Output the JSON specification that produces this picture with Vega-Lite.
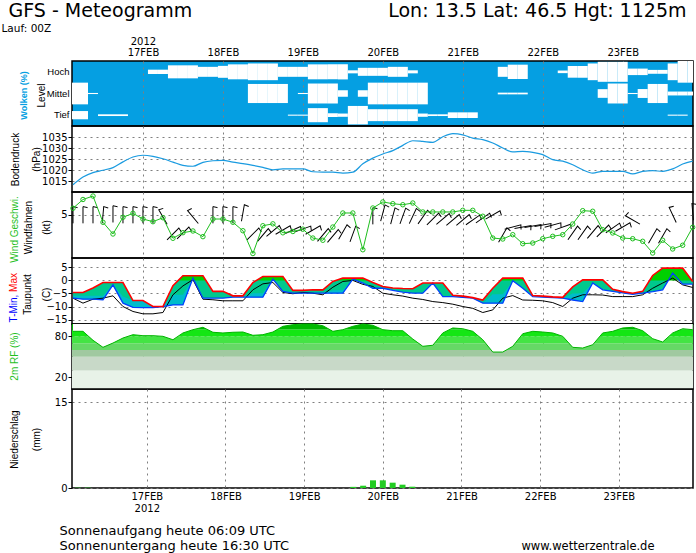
{
  "$schema": "https://vega.github.io/schema/vega-lite/v6.json",
  "background": "white",
  "padding": 0,
  "spacing": 0,
  "bounds": "flush",
  "config": {
    "view": {"stroke": "black", "strokeWidth": 1.5},
    "axis": {
      "labelFont": "DejaVu Sans", "labelFontSize": 10, "labelColor": "black",
      "tickColor": "black", "tickSize": 4, "labelPadding": 1, "domain": false,
      "gridColor": "#7f7f7f", "gridDash": [2, 4], "gridWidth": 1,
      "titleFont": "Liberation Sans", "titleFontSize": 10, "titleFontWeight": "normal", "titleColor": "black",
      "zindex": 1
    },
    "axisY": {"titleAngle": 270, "titleBaseline": "middle", "titleAlign": "center"}
  },
  "datasets": {
    "met": [
      {"t":"2012-02-16T03:00:00Z","p":1013.3,"ws":5.78,"tx":-4.6,"tn":-6.8,"tc":-5.9,"td":-6.8,"rh":87.3},
      {"t":"2012-02-16T06:00:00Z","p":1016.8,"ws":6.80,"tx":-4.6,"tn":-7.2,"tc":-5.9,"td":-8.7,"rh":87.3},
      {"t":"2012-02-16T09:00:00Z","p":1018.8,"ws":7.20,"tx":-2.9,"tn":-7.2,"tc":-5.9,"td":-7.2,"rh":74.2},
      {"t":"2012-02-16T12:00:00Z","p":1019.9,"ws":4.15,"tx":-0.8,"tn":-7.4,"tc":-5.9,"td":-6.8,"rh":63.9},
      {"t":"2012-02-16T15:00:00Z","p":1021.1,"ws":2.79,"tx":-0.8,"tn":-1.7,"tc":-1.7,"td":-5.9,"rh":70.2},
      {"t":"2012-02-16T18:00:00Z","p":1023.7,"ws":4.73,"tx":-0.8,"tn":-8.7,"tc":-6.2,"td":-10.0,"rh":77.5},
      {"t":"2012-02-16T21:00:00Z","p":1025.9,"ws":5.19,"tx":-7.7,"tn":-10.3,"tc":-7.7,"td":-11.9,"rh":82.4},
      {"t":"2012-02-17T00:00:00Z","p":1026.7,"ws":4.53,"tx":-7.7,"tn":-10.4,"tc":-7.7,"td":-12.8,"rh":80.9},
      {"t":"2012-02-17T03:00:00Z","p":1026.2,"ws":4.22,"tx":-10.0,"tn":-10.4,"tc":-10.0,"td":-12.8,"rh":80.9},
      {"t":"2012-02-17T06:00:00Z","p":1025.1,"ws":4.68,"tx":-10.0,"tn":-10.0,"tc":-10.0,"td":-12.3,"rh":80.0},
      {"t":"2012-02-17T09:00:00Z","p":1023.6,"ws":2.29,"tx":-2.0,"tn":-9.4,"tc":-5.5,"td":-5.5,"rh":75.0},
      {"t":"2012-02-17T12:00:00Z","p":1022.1,"ws":2.94,"tx":1.8,"tn":-9.4,"tc":-5.5,"td":-2.1,"rh":84.9},
      {"t":"2012-02-17T15:00:00Z","p":1021.7,"ws":3.14,"tx":1.8,"tn":0.9,"tc":0.9,"td":0.3,"rh":89.7},
      {"t":"2012-02-17T18:00:00Z","p":1023.5,"ws":2.48,"tx":1.8,"tn":-6.8,"tc":-6.8,"td":-7.2,"rh":93.2},
      {"t":"2012-02-17T21:00:00Z","p":1024.2,"ws":4.53,"tx":-4.2,"tn":-6.8,"tc":-6.8,"td":-7.4,"rh":85.9},
      {"t":"2012-02-18T00:00:00Z","p":1024.4,"ws":4.53,"tx":-4.2,"tn":-6.8,"tc":-6.8,"td":-7.8,"rh":84.9},
      {"t":"2012-02-18T03:00:00Z","p":1023.6,"ws":4.15,"tx":-5.9,"tn":-6.4,"tc":-6.4,"td":-7.8,"rh":85.9},
      {"t":"2012-02-18T06:00:00Z","p":1022.9,"ws":3.17,"tx":-5.9,"tn":-6.4,"tc":-6.4,"td":-7.8,"rh":86.3},
      {"t":"2012-02-18T09:00:00Z","p":1022.1,"ws":0.52,"tx":-0.8,"tn":-6.4,"tc":-4.9,"td":-3.6,"rh":81.5},
      {"t":"2012-02-18T12:00:00Z","p":1021.2,"ws":3.75,"tx":1.5,"tn":-6.4,"tc":-4.9,"td":-1.3,"rh":82.4},
      {"t":"2012-02-18T15:00:00Z","p":1020.1,"ws":3.97,"tx":1.5,"tn":0.5,"tc":0.5,"td":-0.8,"rh":86.3},
      {"t":"2012-02-18T18:00:00Z","p":1020.5,"ws":2.93,"tx":1.5,"tn":-4.2,"tc":-4.2,"td":-4.6,"rh":94.6},
      {"t":"2012-02-18T21:00:00Z","p":1020.5,"ws":3.08,"tx":-3.8,"tn":-4.9,"tc":-4.9,"td":-5.1,"rh":97.0},
      {"t":"2012-02-19T00:00:00Z","p":1020.5,"ws":3.35,"tx":-3.8,"tn":-4.9,"tc":-4.9,"td":-4.6,"rh":98.0},
      {"t":"2012-02-19T03:00:00Z","p":1019.2,"ws":2.32,"tx":-3.6,"tn":-4.9,"tc":-4.9,"td":-4.9,"rh":98.0},
      {"t":"2012-02-19T06:00:00Z","p":1019.0,"ws":2.06,"tx":-3.6,"tn":-4.9,"tc":-4.9,"td":-5.5,"rh":95.5},
      {"t":"2012-02-19T09:00:00Z","p":1019.0,"ws":3.60,"tx":-0.4,"tn":-4.9,"tc":-3.8,"td":-2.6,"rh":87.3},
      {"t":"2012-02-19T12:00:00Z","p":1018.6,"ws":5.23,"tx":0.9,"tn":-4.9,"tc":-3.8,"td":-0.4,"rh":89.7},
      {"t":"2012-02-19T15:00:00Z","p":1019.0,"ws":5.23,"tx":0.9,"tn":0.5,"tc":0.5,"td":0.0,"rh":94.6},
      {"t":"2012-02-19T18:00:00Z","p":1022.8,"ws":0.96,"tx":0.9,"tn":-1.0,"tc":-1.0,"td":-1.5,"rh":98.0},
      {"t":"2012-02-19T21:00:00Z","p":1025.4,"ws":5.81,"tx":-0.8,"tn":-3.0,"tc":-3.0,"td":-2.3,"rh":96.1},
      {"t":"2012-02-20T00:00:00Z","p":1027.3,"ws":6.51,"tx":-2.3,"tn":-3.0,"tc":-3.0,"td":-4.9,"rh":89.7},
      {"t":"2012-02-20T03:00:00Z","p":1028.8,"ws":6.31,"tx":-2.9,"tn":-3.8,"tc":-3.8,"td":-5.5,"rh":88.2},
      {"t":"2012-02-20T06:00:00Z","p":1031.2,"ws":6.19,"tx":-3.1,"tn":-4.5,"tc":-4.5,"td":-6.0,"rh":88.2},
      {"t":"2012-02-20T09:00:00Z","p":1033.3,"ws":6.39,"tx":-3.2,"tn":-4.9,"tc":-4.9,"td":-6.8,"rh":76.0},
      {"t":"2012-02-20T12:00:00Z","p":1033.0,"ws":5.35,"tx":-1.0,"tn":-4.9,"tc":-4.9,"td":-7.3,"rh":65.4},
      {"t":"2012-02-20T15:00:00Z","p":1032.6,"ws":5.35,"tx":-1.0,"tn":-1.0,"tc":-1.0,"td":-8.1,"rh":66.9},
      {"t":"2012-02-20T18:00:00Z","p":1035.1,"ws":5.35,"tx":-1.0,"tn":-6.2,"tc":-6.2,"td":-8.5,"rh":84.9},
      {"t":"2012-02-20T21:00:00Z","p":1036.5,"ws":5.35,"tx":-5.7,"tn":-6.2,"tc":-6.2,"td":-9.1,"rh":92.2},
      {"t":"2012-02-21T00:00:00Z","p":1036.0,"ws":5.54,"tx":-6.0,"tn":-6.5,"tc":-6.5,"td":-10.0,"rh":91.1},
      {"t":"2012-02-21T03:00:00Z","p":1034.5,"ws":5.54,"tx":-6.6,"tn":-6.8,"tc":-6.8,"td":-10.7,"rh":87.3},
      {"t":"2012-02-21T06:00:00Z","p":1033.8,"ws":4.85,"tx":-7.5,"tn":-8.7,"tc":-8.7,"td":-12.3,"rh":75.0},
      {"t":"2012-02-21T09:00:00Z","p":1032.3,"ws":2.32,"tx":-3.0,"tn":-8.7,"tc":-5.3,"td":-11.3,"rh":57.0},
      {"t":"2012-02-21T12:00:00Z","p":1030.0,"ws":2.21,"tx":0.9,"tn":-8.7,"tc":-5.3,"td":-6.8,"rh":57.0},
      {"t":"2012-02-21T15:00:00Z","p":1028.2,"ws":2.71,"tx":0.9,"tn":-0.1,"tc":-0.1,"td":-5.8,"rh":65.4},
      {"t":"2012-02-21T18:00:00Z","p":1028.5,"ws":1.66,"tx":0.9,"tn":-3.0,"tc":-3.0,"td":-7.5,"rh":83.8},
      {"t":"2012-02-21T21:00:00Z","p":1028.0,"ws":1.74,"tx":-5.8,"tn":-6.2,"tc":-6.2,"td":-7.6,"rh":87.3},
      {"t":"2012-02-22T00:00:00Z","p":1027.0,"ws":2.24,"tx":-6.0,"tn":-6.4,"tc":-6.4,"td":-7.8,"rh":86.3},
      {"t":"2012-02-22T03:00:00Z","p":1024.7,"ws":2.52,"tx":-6.3,"tn":-6.6,"tc":-6.6,"td":-8.5,"rh":84.9},
      {"t":"2012-02-22T06:00:00Z","p":1024.0,"ws":2.71,"tx":-6.5,"tn":-6.8,"tc":-6.8,"td":-10.0,"rh":80.0},
      {"t":"2012-02-22T09:00:00Z","p":1022.4,"ws":3.95,"tx":-2.5,"tn":-7.5,"tc":-5.0,"td":-6.8,"rh":63.9},
      {"t":"2012-02-22T12:00:00Z","p":1020.1,"ws":5.50,"tx":0.2,"tn":-8.1,"tc":-4.9,"td":-5.5,"rh":62.9},
      {"t":"2012-02-22T15:00:00Z","p":1018.6,"ws":5.43,"tx":0.2,"tn":-1.0,"tc":-1.0,"td":-5.5,"rh":67.7},
      {"t":"2012-02-22T18:00:00Z","p":1019.4,"ws":3.29,"tx":0.2,"tn":-3.6,"tc":-3.6,"td":-5.6,"rh":84.9},
      {"t":"2012-02-22T21:00:00Z","p":1019.4,"ws":2.91,"tx":-3.4,"tn":-4.2,"tc":-4.2,"td":-6.2,"rh":87.3},
      {"t":"2012-02-23T00:00:00Z","p":1019.4,"ws":2.32,"tx":-4.3,"tn":-4.8,"tc":-4.8,"td":-6.2,"rh":92.2},
      {"t":"2012-02-23T03:00:00Z","p":1018.2,"ws":2.24,"tx":-4.9,"tn":-5.3,"tc":-5.3,"td":-6.2,"rh":93.2},
      {"t":"2012-02-23T06:00:00Z","p":1019.4,"ws":1.94,"tx":-4.2,"tn":-4.9,"tc":-4.9,"td":-5.5,"rh":88.2},
      {"t":"2012-02-23T09:00:00Z","p":1019.7,"ws":0.58,"tx":1.9,"tn":-4.3,"tc":-4.3,"td":-3.0,"rh":76.5},
      {"t":"2012-02-23T12:00:00Z","p":1019.4,"ws":2.06,"tx":4.7,"tn":-3.6,"tc":-3.6,"td":-1.0,"rh":71.7},
      {"t":"2012-02-23T15:00:00Z","p":1020.5,"ws":1.05,"tx":4.7,"tn":2.8,"tc":2.8,"td":0.9,"rh":84.9},
      {"t":"2012-02-23T18:00:00Z","p":1022.7,"ws":1.48,"tx":4.7,"tn":-1.4,"tc":-1.4,"td":-1.7,"rh":91.1},
      {"t":"2012-02-23T21:00:00Z","p":1024.0,"ws":3.57,"tx":-0.4,"tn":-1.4,"tc":-1.4,"td":-2.7,"rh":89.7}
    ],
    "clouds": [
      {"t0":"2012-02-16T01:30:00Z","t1":"2012-02-16T04:30:00Z","Hoch":0,"Mittel":100,"Tief":38},
      {"t0":"2012-02-16T04:30:00Z","t1":"2012-02-16T07:30:00Z","Hoch":0,"Mittel":100,"Tief":38},
      {"t0":"2012-02-16T07:30:00Z","t1":"2012-02-16T10:30:00Z","Hoch":0,"Mittel":5,"Tief":0},
      {"t0":"2012-02-16T10:30:00Z","t1":"2012-02-16T13:30:00Z","Hoch":0,"Mittel":0,"Tief":8},
      {"t0":"2012-02-16T13:30:00Z","t1":"2012-02-16T16:30:00Z","Hoch":0,"Mittel":0,"Tief":8},
      {"t0":"2012-02-16T16:30:00Z","t1":"2012-02-16T19:30:00Z","Hoch":0,"Mittel":0,"Tief":8},
      {"t0":"2012-02-17T01:30:00Z","t1":"2012-02-17T04:30:00Z","Hoch":20,"Mittel":0,"Tief":0},
      {"t0":"2012-02-17T04:30:00Z","t1":"2012-02-17T07:30:00Z","Hoch":20,"Mittel":0,"Tief":0},
      {"t0":"2012-02-17T07:30:00Z","t1":"2012-02-17T10:30:00Z","Hoch":60,"Mittel":0,"Tief":0},
      {"t0":"2012-02-17T10:30:00Z","t1":"2012-02-17T13:30:00Z","Hoch":60,"Mittel":0,"Tief":0},
      {"t0":"2012-02-17T13:30:00Z","t1":"2012-02-17T16:30:00Z","Hoch":60,"Mittel":0,"Tief":0},
      {"t0":"2012-02-17T16:30:00Z","t1":"2012-02-17T19:30:00Z","Hoch":46,"Mittel":0,"Tief":0},
      {"t0":"2012-02-17T19:30:00Z","t1":"2012-02-17T22:30:00Z","Hoch":46,"Mittel":0,"Tief":0},
      {"t0":"2012-02-17T22:30:00Z","t1":"2012-02-18T01:30:00Z","Hoch":55,"Mittel":0,"Tief":0},
      {"t0":"2012-02-18T01:30:00Z","t1":"2012-02-18T04:30:00Z","Hoch":69,"Mittel":0,"Tief":0},
      {"t0":"2012-02-18T04:30:00Z","t1":"2012-02-18T07:30:00Z","Hoch":69,"Mittel":0,"Tief":0},
      {"t0":"2012-02-18T07:30:00Z","t1":"2012-02-18T10:30:00Z","Hoch":77,"Mittel":88,"Tief":0},
      {"t0":"2012-02-18T10:30:00Z","t1":"2012-02-18T13:30:00Z","Hoch":77,"Mittel":88,"Tief":0},
      {"t0":"2012-02-18T13:30:00Z","t1":"2012-02-18T16:30:00Z","Hoch":77,"Mittel":88,"Tief":0},
      {"t0":"2012-02-18T16:30:00Z","t1":"2012-02-18T19:30:00Z","Hoch":46,"Mittel":88,"Tief":0},
      {"t0":"2012-02-18T19:30:00Z","t1":"2012-02-18T22:30:00Z","Hoch":46,"Mittel":0,"Tief":5},
      {"t0":"2012-02-18T22:30:00Z","t1":"2012-02-19T01:30:00Z","Hoch":46,"Mittel":5,"Tief":5},
      {"t0":"2012-02-19T01:30:00Z","t1":"2012-02-19T04:30:00Z","Hoch":69,"Mittel":92,"Tief":65},
      {"t0":"2012-02-19T04:30:00Z","t1":"2012-02-19T07:30:00Z","Hoch":69,"Mittel":92,"Tief":65},
      {"t0":"2012-02-19T07:30:00Z","t1":"2012-02-19T10:30:00Z","Hoch":69,"Mittel":92,"Tief":18},
      {"t0":"2012-02-19T10:30:00Z","t1":"2012-02-19T13:30:00Z","Hoch":70,"Mittel":30,"Tief":15},
      {"t0":"2012-02-19T13:30:00Z","t1":"2012-02-19T16:30:00Z","Hoch":14,"Mittel":0,"Tief":85},
      {"t0":"2012-02-19T16:30:00Z","t1":"2012-02-19T19:30:00Z","Hoch":37,"Mittel":30,"Tief":85},
      {"t0":"2012-02-19T19:30:00Z","t1":"2012-02-19T22:30:00Z","Hoch":37,"Mittel":100,"Tief":55},
      {"t0":"2012-02-19T22:30:00Z","t1":"2012-02-20T01:30:00Z","Hoch":37,"Mittel":100,"Tief":55},
      {"t0":"2012-02-20T01:30:00Z","t1":"2012-02-20T04:30:00Z","Hoch":46,"Mittel":100,"Tief":55},
      {"t0":"2012-02-20T04:30:00Z","t1":"2012-02-20T07:30:00Z","Hoch":46,"Mittel":100,"Tief":55},
      {"t0":"2012-02-20T07:30:00Z","t1":"2012-02-20T10:30:00Z","Hoch":14,"Mittel":100,"Tief":55},
      {"t0":"2012-02-20T10:30:00Z","t1":"2012-02-20T13:30:00Z","Hoch":0,"Mittel":100,"Tief":15},
      {"t0":"2012-02-20T13:30:00Z","t1":"2012-02-20T16:30:00Z","Hoch":0,"Mittel":0,"Tief":8},
      {"t0":"2012-02-20T16:30:00Z","t1":"2012-02-20T19:30:00Z","Hoch":0,"Mittel":0,"Tief":8},
      {"t0":"2012-02-20T19:30:00Z","t1":"2012-02-20T22:30:00Z","Hoch":0,"Mittel":0,"Tief":26},
      {"t0":"2012-02-20T22:30:00Z","t1":"2012-02-21T01:30:00Z","Hoch":0,"Mittel":0,"Tief":26},
      {"t0":"2012-02-21T01:30:00Z","t1":"2012-02-21T04:30:00Z","Hoch":0,"Mittel":0,"Tief":26},
      {"t0":"2012-02-21T10:30:00Z","t1":"2012-02-21T13:30:00Z","Hoch":46,"Mittel":8,"Tief":0},
      {"t0":"2012-02-21T13:30:00Z","t1":"2012-02-21T16:30:00Z","Hoch":66,"Mittel":8,"Tief":0},
      {"t0":"2012-02-21T16:30:00Z","t1":"2012-02-21T19:30:00Z","Hoch":66,"Mittel":8,"Tief":0},
      {"t0":"2012-02-22T04:30:00Z","t1":"2012-02-22T07:30:00Z","Hoch":12,"Mittel":0,"Tief":0},
      {"t0":"2012-02-22T07:30:00Z","t1":"2012-02-22T10:30:00Z","Hoch":54,"Mittel":0,"Tief":0},
      {"t0":"2012-02-22T10:30:00Z","t1":"2012-02-22T13:30:00Z","Hoch":54,"Mittel":0,"Tief":0},
      {"t0":"2012-02-22T13:30:00Z","t1":"2012-02-22T16:30:00Z","Hoch":77,"Mittel":0,"Tief":0},
      {"t0":"2012-02-22T16:30:00Z","t1":"2012-02-22T19:30:00Z","Hoch":92,"Mittel":40,"Tief":0},
      {"t0":"2012-02-22T19:30:00Z","t1":"2012-02-22T22:30:00Z","Hoch":92,"Mittel":92,"Tief":0},
      {"t0":"2012-02-22T22:30:00Z","t1":"2012-02-23T01:30:00Z","Hoch":92,"Mittel":92,"Tief":0},
      {"t0":"2012-02-23T01:30:00Z","t1":"2012-02-23T04:30:00Z","Hoch":30,"Mittel":5,"Tief":0},
      {"t0":"2012-02-23T04:30:00Z","t1":"2012-02-23T07:30:00Z","Hoch":30,"Mittel":41,"Tief":0},
      {"t0":"2012-02-23T07:30:00Z","t1":"2012-02-23T10:30:00Z","Hoch":18,"Mittel":88,"Tief":0},
      {"t0":"2012-02-23T10:30:00Z","t1":"2012-02-23T13:30:00Z","Hoch":18,"Mittel":88,"Tief":0},
      {"t0":"2012-02-23T13:30:00Z","t1":"2012-02-23T16:30:00Z","Hoch":77,"Mittel":18,"Tief":5},
      {"t0":"2012-02-23T16:30:00Z","t1":"2012-02-23T19:30:00Z","Hoch":100,"Mittel":18,"Tief":5},
      {"t0":"2012-02-23T19:30:00Z","t1":"2012-02-23T22:30:00Z","Hoch":100,"Mittel":18,"Tief":0}
    ],
    "barbs": [
      {"t":"2012-02-16T03:00:00Z","v":5.0,"dir":0},
      {"t":"2012-02-16T06:00:00Z","v":5.0,"dir":0},
      {"t":"2012-02-16T09:00:00Z","v":5.0,"dir":0},
      {"t":"2012-02-16T12:00:00Z","v":5.0,"dir":5},
      {"t":"2012-02-16T15:00:00Z","v":5.1,"dir":0},
      {"t":"2012-02-16T18:00:00Z","v":5.0,"dir":0},
      {"t":"2012-02-16T21:00:00Z","v":5.0,"dir":0},
      {"t":"2012-02-17T00:00:00Z","v":5.0,"dir":0},
      {"t":"2012-02-17T03:00:00Z","v":5.0,"dir":0},
      {"t":"2012-02-17T06:00:00Z","v":4.76,"dir":-30},
      {"t":"2012-02-17T09:00:00Z","v":2.79,"dir":45},
      {"t":"2012-02-17T12:00:00Z","v":2.91,"dir":45},
      {"t":"2012-02-17T15:00:00Z","v":4.76,"dir":-40},
      {"t":"2012-02-17T21:00:00Z","v":5.0,"dir":0},
      {"t":"2012-02-18T00:00:00Z","v":5.0,"dir":0},
      {"t":"2012-02-18T03:00:00Z","v":5.0,"dir":0},
      {"t":"2012-02-18T06:00:00Z","v":5.23,"dir":10},
      {"t":"2012-02-18T09:00:00Z","v":2.79,"dir":45},
      {"t":"2012-02-18T12:00:00Z","v":2.67,"dir":40},
      {"t":"2012-02-18T15:00:00Z","v":3.14,"dir":50},
      {"t":"2012-02-18T18:00:00Z","v":3.25,"dir":60},
      {"t":"2012-02-18T21:00:00Z","v":3.25,"dir":65},
      {"t":"2012-02-19T00:00:00Z","v":3.37,"dir":70},
      {"t":"2012-02-19T03:00:00Z","v":3.25,"dir":60},
      {"t":"2012-02-19T06:00:00Z","v":2.67,"dir":40},
      {"t":"2012-02-19T09:00:00Z","v":2.56,"dir":40},
      {"t":"2012-02-19T12:00:00Z","v":3.02,"dir":30},
      {"t":"2012-02-19T15:00:00Z","v":2.79,"dir":20},
      {"t":"2012-02-19T21:00:00Z","v":4.88,"dir":0},
      {"t":"2012-02-20T00:00:00Z","v":5.23,"dir":15},
      {"t":"2012-02-20T03:00:00Z","v":4.88,"dir":15},
      {"t":"2012-02-20T06:00:00Z","v":4.88,"dir":20},
      {"t":"2012-02-20T09:00:00Z","v":4.88,"dir":25},
      {"t":"2012-02-20T12:00:00Z","v":4.76,"dir":35},
      {"t":"2012-02-20T15:00:00Z","v":4.53,"dir":45},
      {"t":"2012-02-20T18:00:00Z","v":4.53,"dir":50},
      {"t":"2012-02-20T21:00:00Z","v":4.42,"dir":50},
      {"t":"2012-02-21T00:00:00Z","v":4.42,"dir":50},
      {"t":"2012-02-21T03:00:00Z","v":4.42,"dir":55},
      {"t":"2012-02-21T06:00:00Z","v":4.65,"dir":55},
      {"t":"2012-02-21T09:00:00Z","v":5.0,"dir":60},
      {"t":"2012-02-21T12:00:00Z","v":2.67,"dir":30},
      {"t":"2012-02-21T15:00:00Z","v":3.6,"dir":75},
      {"t":"2012-02-21T18:00:00Z","v":3.6,"dir":80},
      {"t":"2012-02-21T21:00:00Z","v":3.72,"dir":80},
      {"t":"2012-02-22T00:00:00Z","v":3.83,"dir":80},
      {"t":"2012-02-22T03:00:00Z","v":3.83,"dir":75},
      {"t":"2012-02-22T06:00:00Z","v":3.6,"dir":70},
      {"t":"2012-02-22T09:00:00Z","v":2.91,"dir":35},
      {"t":"2012-02-22T12:00:00Z","v":2.91,"dir":35},
      {"t":"2012-02-22T15:00:00Z","v":3.02,"dir":40},
      {"t":"2012-02-22T18:00:00Z","v":3.14,"dir":45},
      {"t":"2012-02-22T21:00:00Z","v":3.49,"dir":55},
      {"t":"2012-02-23T00:00:00Z","v":3.6,"dir":60},
      {"t":"2012-02-23T03:00:00Z","v":4.42,"dir":-60},
      {"t":"2012-02-23T09:00:00Z","v":2.56,"dir":30},
      {"t":"2012-02-23T12:00:00Z","v":2.56,"dir":30},
      {"t":"2012-02-23T15:00:00Z","v":5.0,"dir":-25},
      {"t":"2012-02-23T21:00:00Z","v":5.35,"dir":-5}
    ],
    "warm": [
      {"t":"2012-02-17T10:30:00Z","hi":0,"seg":"A"},
      {"t":"2012-02-17T12:00:00Z","hi":1.8,"seg":"A"},
      {"t":"2012-02-17T15:00:00Z","hi":1.8,"seg":"A"},
      {"t":"2012-02-17T18:00:00Z","hi":1.8,"seg":"A"},
      {"t":"2012-02-17T18:54:00Z","hi":0,"seg":"A"},
      {"t":"2012-02-18T10:00:00Z","hi":0,"seg":"B"},
      {"t":"2012-02-18T12:00:00Z","hi":1.5,"seg":"B"},
      {"t":"2012-02-18T15:00:00Z","hi":1.5,"seg":"B"},
      {"t":"2012-02-18T18:00:00Z","hi":1.5,"seg":"B"},
      {"t":"2012-02-18T18:51:00Z","hi":0,"seg":"B"},
      {"t":"2012-02-19T09:56:00Z","hi":0,"seg":"C"},
      {"t":"2012-02-19T12:00:00Z","hi":0.9,"seg":"C"},
      {"t":"2012-02-19T15:00:00Z","hi":0.9,"seg":"C"},
      {"t":"2012-02-19T18:00:00Z","hi":0.9,"seg":"C"},
      {"t":"2012-02-19T19:35:00Z","hi":0,"seg":"C"},
      {"t":"2012-02-21T11:18:00Z","hi":0,"seg":"D"},
      {"t":"2012-02-21T12:00:00Z","hi":0.9,"seg":"D"},
      {"t":"2012-02-21T15:00:00Z","hi":0.9,"seg":"D"},
      {"t":"2012-02-21T18:00:00Z","hi":0.9,"seg":"D"},
      {"t":"2012-02-21T18:24:00Z","hi":0,"seg":"D"},
      {"t":"2012-02-22T11:47:00Z","hi":0,"seg":"E"},
      {"t":"2012-02-22T12:00:00Z","hi":0.2,"seg":"E"},
      {"t":"2012-02-22T15:00:00Z","hi":0.2,"seg":"E"},
      {"t":"2012-02-22T18:00:00Z","hi":0.2,"seg":"E"},
      {"t":"2012-02-22T18:10:00Z","hi":0,"seg":"E"},
      {"t":"2012-02-23T08:04:00Z","hi":0,"seg":"F"},
      {"t":"2012-02-23T09:00:00Z","hi":1.9,"seg":"F"},
      {"t":"2012-02-23T12:00:00Z","hi":4.7,"seg":"F"},
      {"t":"2012-02-23T15:00:00Z","hi":4.7,"seg":"F"},
      {"t":"2012-02-23T18:00:00Z","hi":4.7,"seg":"F"},
      {"t":"2012-02-23T20:46:00Z","hi":0,"seg":"F"}
    ],
    "precip": [
      {"t":"2012-02-16T03:00:00Z","mm":0.06},
      {"t":"2012-02-16T06:00:00Z","mm":0.06},
      {"t":"2012-02-19T15:00:00Z","mm":0.2},
      {"t":"2012-02-19T18:00:00Z","mm":0.4},
      {"t":"2012-02-19T21:00:00Z","mm":1.34},
      {"t":"2012-02-20T00:00:00Z","mm":1.34},
      {"t":"2012-02-20T03:00:00Z","mm":0.93},
      {"t":"2012-02-20T06:00:00Z","mm":0.58},
      {"t":"2012-02-20T09:00:00Z","mm":0.23}
    ],
    "bands": [
      {"lo":0,"hi":30},{"lo":30,"hi":50},{"lo":50,"hi":60},{"lo":60,"hi":70},
      {"lo":70,"hi":80},{"lo":80,"hi":90},{"lo":90,"hi":98}
    ]
  },
  "vconcat": [
    {
      "width": 621, "height": 65,
      "view": {"fill": "#059fe2", "stroke": "black", "strokeWidth": 1.5},
      "data": {"name": "clouds"},
      "transform": [{"fold": ["Hoch", "Mittel", "Tief"], "as": ["lvl", "c"]}],
      "encoding": {
        "x2": {"field": "t1"},
        "size": {"field": "c", "type": "quantitative", "scale": {"domain": [0, 100], "range": [0, 21.7]}, "legend": null}
      },
      "layer": [
        {
          "transform": [{"filter": "datum.lvl == 'Hoch'"}],
          "mark": {"type": "bar", "color": "white", "clip": true},
          "encoding": {
            "x": {"field": "t0", "type": "temporal",
              "scale": {"type": "utc", "domain": [{"year": 2012, "month": 2, "date": 16, "hours": 2, "minutes": 42, "utc": true}, {"year": 2012, "month": 2, "date": 23, "hours": 21, "minutes": 6, "utc": true}]},
              "axis": {"orient": "top", "values": [{"year":2012,"month":2,"date":17,"utc":true},{"year":2012,"month":2,"date":18,"utc":true},{"year":2012,"month":2,"date":19,"utc":true},{"year":2012,"month":2,"date":20,"utc":true},{"year":2012,"month":2,"date":21,"utc":true},{"year":2012,"month":2,"date":22,"utc":true},{"year":2012,"month":2,"date":23,"utc":true}],
                "labelExpr": "[utcdate(datum.value) == 17 ? '2012' : '', upper(utcFormat(datum.value, '%d%b'))]",
                "labelPadding": 15, "labelLineHeight": 11, "ticks": false, "grid": true,
                "title": "Lon: 13.5 Lat: 46.5 Hgt: 1125m", "titleFont": "DejaVu Sans", "titleFontSize": 19, "titleAngle": 0, "titleAlign": "right", "titleBaseline": "alphabetic", "titleX": 614, "titleY": -45}},
            "y": {"field": "lvl", "type": "nominal", "scale": {"domain": ["Hoch", "Mittel", "Tief"], "paddingInner": 0, "paddingOuter": 0},
              "axis": {"orient": "left", "ticks": false, "grid": false, "labelFont": "Liberation Sans", "labelFontSize": 9.5, "labelPadding": 3, "title": "Level", "titleX": -31, "titleY": 34}}
          }
        },
        {
          "transform": [{"filter": "datum.lvl == 'Mittel'"}],
          "mark": {"type": "bar", "color": "white", "clip": true},
          "encoding": {
            "x": {"field": "t0", "type": "temporal",
              "axis": {"orient": "top", "labels": false, "ticks": false, "grid": false,
                "title": "GFS - Meteogramm", "titleFont": "DejaVu Sans", "titleFontSize": 19, "titleAngle": 0, "titleAlign": "left", "titleBaseline": "alphabetic", "titleX": -64, "titleY": -45}},
            "y": {"field": "lvl", "type": "nominal", "scale": {"domain": ["Hoch", "Mittel", "Tief"], "paddingInner": 0, "paddingOuter": 0},
              "axis": {"orient": "left", "labels": false, "ticks": false, "grid": false, "title": "Wolken (%)", "titleColor": "#059fe2", "titleFontWeight": "bold", "titleFontSize": 9, "titleX": -48.5, "titleY": 34}}
          }
        },
        {
          "transform": [{"filter": "datum.lvl == 'Tief'"}],
          "mark": {"type": "bar", "color": "white", "clip": true},
          "encoding": {
            "x": {"field": "t0", "type": "temporal",
              "axis": {"orient": "top", "labels": false, "ticks": false, "grid": false,
                "title": "Lauf: 00Z", "titleFont": "DejaVu Sans", "titleFontSize": 10.5, "titleAngle": 0, "titleAlign": "left", "titleBaseline": "alphabetic", "titleX": -71, "titleY": -30}},
            "y": {"field": "lvl", "type": "nominal", "scale": {"domain": ["Hoch", "Mittel", "Tief"], "paddingInner": 0, "paddingOuter": 0}, "axis": null}
          }
        }
      ],
      "resolve": {"axis": {"x": "independent", "y": "independent"}}
    },
    {
      "width": 621, "height": 66,
      "data": {"name": "met"},
      "mark": {"type": "line", "color": "#1a9be0", "strokeWidth": 1.2, "interpolate": "monotone"},
      "encoding": {
        "x": {"field": "t", "type": "temporal",
          "scale": {"type": "utc", "domain": [{"year": 2012, "month": 2, "date": 16, "hours": 2, "minutes": 42, "utc": true}, {"year": 2012, "month": 2, "date": 23, "hours": 21, "minutes": 6, "utc": true}]},
          "axis": {"values": [{"year":2012,"month":2,"date":17,"utc":true},{"year":2012,"month":2,"date":18,"utc":true},{"year":2012,"month":2,"date":19,"utc":true},{"year":2012,"month":2,"date":20,"utc":true},{"year":2012,"month":2,"date":21,"utc":true},{"year":2012,"month":2,"date":22,"utc":true},{"year":2012,"month":2,"date":23,"utc":true}], "labels": false, "ticks": false, "title": null, "grid": true}},
        "y": {"field": "p", "type": "quantitative", "scale": {"domain": [1010, 1040], "zero": false, "nice": false},
          "axis": {"values": [1015, 1020, 1025, 1030, 1035], "format": "d", "grid": true, "title": ["Bodendruck", "(hPa)"], "titleX": -57, "titleY": 33, "titleLineHeight": 21}}
      }
    },
    {
      "width": 621, "height": 66,
      "layer": [
        {
          "data": {"name": "barbs"},
          "mark": {"type": "point", "shape": "M0,1L0,-1L0.55,-0.88", "filled": false, "stroke": "black", "strokeWidth": 1, "size": 280, "opacity": 1},
          "encoding": {
            "x": {"field": "t", "type": "temporal",
              "scale": {"type": "utc", "domain": [{"year": 2012, "month": 2, "date": 16, "hours": 2, "minutes": 42, "utc": true}, {"year": 2012, "month": 2, "date": 23, "hours": 21, "minutes": 6, "utc": true}]},
              "axis": {"values": [{"year":2012,"month":2,"date":17,"utc":true},{"year":2012,"month":2,"date":18,"utc":true},{"year":2012,"month":2,"date":19,"utc":true},{"year":2012,"month":2,"date":20,"utc":true},{"year":2012,"month":2,"date":21,"utc":true},{"year":2012,"month":2,"date":22,"utc":true},{"year":2012,"month":2,"date":23,"utc":true}], "labels": false, "ticks": false, "title": null, "grid": true}},
            "y": {"field": "v", "type": "quantitative", "scale": {"domain": [0, 7.67], "nice": false, "zero": false},
              "axis": {"orient": "left", "labels": false, "ticks": false, "grid": false, "title": "Wind Geschwi.", "titleColor": "#1fbf1f", "titleX": -58, "titleY": 37}},
            "angle": {"field": "dir", "type": "quantitative", "scale": null}
          }
        },
        {
          "data": {"name": "met"},
          "mark": {"type": "line", "color": "#1fbf1f", "strokeWidth": 1, "point": {"filled": false, "stroke": "#1fbf1f", "size": 20, "strokeWidth": 1, "opacity": 1}},
          "encoding": {
            "x": {"field": "t", "type": "temporal"},
            "y": {"field": "ws", "type": "quantitative", "scale": {"domain": [0, 7.67], "nice": false, "zero": false},
              "axis": {"orient": "left", "values": [5], "grid": true, "title": ["Windfahnen", "(kt)"], "titleX": -44, "titleY": 35, "titleLineHeight": 18}}
          }
        }
      ],
      "resolve": {"axis": {"y": "independent"}}
    },
    {
      "width": 621, "height": 66,
      "layer": [
        {
          "data": {"name": "met"},
          "mark": {"type": "area", "color": "#00c98d", "opacity": 1},
          "encoding": {
            "x": {"field": "t", "type": "temporal",
              "scale": {"type": "utc", "domain": [{"year": 2012, "month": 2, "date": 16, "hours": 2, "minutes": 42, "utc": true}, {"year": 2012, "month": 2, "date": 23, "hours": 21, "minutes": 6, "utc": true}]},
              "axis": {"values": [{"year":2012,"month":2,"date":17,"utc":true},{"year":2012,"month":2,"date":18,"utc":true},{"year":2012,"month":2,"date":19,"utc":true},{"year":2012,"month":2,"date":20,"utc":true},{"year":2012,"month":2,"date":21,"utc":true},{"year":2012,"month":2,"date":22,"utc":true},{"year":2012,"month":2,"date":23,"utc":true}], "labels": false, "ticks": false, "title": null, "grid": true}},
            "y": {"field": "tx", "type": "quantitative", "scale": {"domain": [-16.7, 8.6], "nice": false, "zero": false},
              "axis": {"orient": "left", "values": [-15, -10, -5, 0, 5], "grid": true, "title": ["Taupunkt", "(C)"], "titleX": -45, "titleY": 36, "titleLineHeight": 19}},
            "y2": {"field": "tn"}
          }
        },
        {
          "data": {"name": "met"},
          "mark": {"type": "area", "color": "#00bccb", "opacity": 1},
          "encoding": {
            "x": {"field": "t", "type": "temporal"},
            "y": {"field": "tc", "type": "quantitative", "scale": {"domain": [-16.7, 8.6], "nice": false, "zero": false}, "axis": null},
            "y2": {"field": "tn"}
          }
        },
        {
          "data": {"name": "warm"},
          "mark": {"type": "area", "color": "#00d000", "opacity": 1},
          "encoding": {
            "x": {"field": "t", "type": "temporal"},
            "y": {"field": "hi", "type": "quantitative", "scale": {"domain": [-16.7, 8.6], "nice": false, "zero": false}, "axis": null},
            "y2": {"datum": 0},
            "detail": {"field": "seg"}
          }
        },
        {
          "data": {"name": "met"},
          "mark": {"type": "line", "color": "black", "strokeWidth": 1},
          "encoding": {
            "x": {"field": "t", "type": "temporal"},
            "y": {"field": "td", "type": "quantitative", "scale": {"domain": [-16.7, 8.6], "nice": false, "zero": false}, "axis": null}
          }
        },
        {
          "data": {"name": "met"},
          "mark": {"type": "line", "color": "#0040ff", "strokeWidth": 1.3},
          "encoding": {
            "x": {"field": "t", "type": "temporal"},
            "y": {"field": "tn", "type": "quantitative", "scale": {"domain": [-16.7, 8.6], "nice": false, "zero": false},
              "axis": {"orient": "left", "labels": false, "ticks": false, "grid": false, "title": "T-Min,", "titleColor": "#0000ff", "titleX": -59, "titleY": 50}}
          }
        },
        {
          "data": {"name": "met"},
          "mark": {"type": "line", "color": "#ff0000", "strokeWidth": 1.6},
          "encoding": {
            "x": {"field": "t", "type": "temporal"},
            "y": {"field": "tx", "type": "quantitative", "scale": {"domain": [-16.7, 8.6], "nice": false, "zero": false},
              "axis": {"orient": "left", "labels": false, "ticks": false, "grid": false, "title": "Max", "titleColor": "#ff0000", "titleX": -59, "titleY": 24}}
          }
        }
      ],
      "resolve": {"axis": {"y": "independent"}}
    },
    {
      "width": 621, "height": 65,
      "layer": [
        {
          "data": {"name": "bands"},
          "mark": {"type": "rect", "clip": true},
          "encoding": {
            "x": {"datum": {"year": 2012, "month": 2, "date": 16, "hours": 2, "minutes": 42, "utc": true}, "type": "temporal",
              "scale": {"type": "utc", "domain": [{"year": 2012, "month": 2, "date": 16, "hours": 2, "minutes": 42, "utc": true}, {"year": 2012, "month": 2, "date": 23, "hours": 21, "minutes": 6, "utc": true}]},
              "axis": {"values": [{"year":2012,"month":2,"date":17,"utc":true},{"year":2012,"month":2,"date":18,"utc":true},{"year":2012,"month":2,"date":19,"utc":true},{"year":2012,"month":2,"date":20,"utc":true},{"year":2012,"month":2,"date":21,"utc":true},{"year":2012,"month":2,"date":22,"utc":true},{"year":2012,"month":2,"date":23,"utc":true}], "labels": false, "ticks": false, "title": null, "grid": true}},
            "x2": {"datum": {"year": 2012, "month": 2, "date": 23, "hours": 21, "minutes": 6, "utc": true}},
            "y": {"field": "lo", "type": "quantitative", "scale": {"domain": [3, 98], "nice": false, "zero": false},
              "axis": {"values": [20, 40, 60, 80], "grid": true, "title": "2m RF (%)", "titleColor": "#1fbf1f", "titleX": -58, "titleY": 32}},
            "y2": {"field": "hi"},
            "color": {"field": "lo", "type": "ordinal", "legend": null,
              "scale": {"domain": [0, 30, 50, 60, 70, 80, 90], "range": ["#e8f2e8", "#c8d9c8", "#a0c9a0", "#66d866", "#44e444", "#14e614", "#00b800"]}}
          }
        },
        {
          "data": {"name": "met"},
          "mark": {"type": "area", "color": "white", "opacity": 1, "clip": true},
          "encoding": {
            "x": {"field": "t", "type": "temporal"},
            "y": {"field": "rh", "type": "quantitative"},
            "y2": {"datum": 98}
          }
        },
        {
          "data": {"name": "met"},
          "mark": {"type": "line", "color": "#00b400", "strokeWidth": 1},
          "encoding": {
            "x": {"field": "t", "type": "temporal"},
            "y": {"field": "rh", "type": "quantitative"}
          }
        }
      ]
    },
    {
      "width": 621, "height": 99,
      "layer": [
        {
          "data": {"name": "precip"},
          "mark": {"type": "bar", "color": "#22cc22", "size": 6},
          "encoding": {
            "x": {"field": "t", "type": "temporal",
              "scale": {"type": "utc", "domain": [{"year": 2012, "month": 2, "date": 16, "hours": 2, "minutes": 42, "utc": true}, {"year": 2012, "month": 2, "date": 23, "hours": 21, "minutes": 6, "utc": true}]},
              "axis": {"orient": "bottom", "values": [{"year":2012,"month":2,"date":17,"utc":true},{"year":2012,"month":2,"date":18,"utc":true},{"year":2012,"month":2,"date":19,"utc":true},{"year":2012,"month":2,"date":20,"utc":true},{"year":2012,"month":2,"date":21,"utc":true},{"year":2012,"month":2,"date":22,"utc":true},{"year":2012,"month":2,"date":23,"utc":true}],
                "labelExpr": "utcdate(datum.value) == 17 ? [upper(utcFormat(datum.value, '%d%b')), '2012'] : upper(utcFormat(datum.value, '%d%b'))",
                "ticks": false, "labelPadding": 3, "labelLineHeight": 12, "grid": true,
                "title": ["Sonnenaufgang heute 06:09 UTC", "Sonnenuntergang heute 16:30 UTC"], "titleFont": "DejaVu Sans", "titleFontSize": 13,
                "titleAlign": "left", "titleBaseline": "alphabetic", "titleX": -13, "titleY": 46, "titleLineHeight": 15}},
            "y": {"field": "mm", "type": "quantitative", "scale": {"domain": [0, 17.3], "nice": false},
              "axis": {"values": [0, 5, 10, 15], "grid": true, "title": ["Niederschlag", "(mm)"], "titleX": -57.5, "titleY": 50, "titleLineHeight": 21.5}}
          }
        },
        {
          "mark": {"type": "rule", "color": "black", "strokeDash": [5, 2], "strokeWidth": 1},
          "encoding": {
            "x": {"datum": {"year": 2012, "month": 2, "date": 16, "hours": 2, "minutes": 42, "utc": true}, "type": "temporal",
              "axis": {"orient": "bottom", "labels": false, "ticks": false, "grid": false,
                "title": "www.wetterzentrale.de", "titleFont": "DejaVu Sans", "titleFontSize": 11.5, "titleAlign": "right", "titleBaseline": "alphabetic", "titleX": 582, "titleY": 61}},
            "x2": {"datum": {"year": 2012, "month": 2, "date": 23, "hours": 21, "minutes": 6, "utc": true}},
            "y": {"datum": 0}
          }
        }
      ],
      "resolve": {"axis": {"x": "independent"}}
    }
  ]
}
